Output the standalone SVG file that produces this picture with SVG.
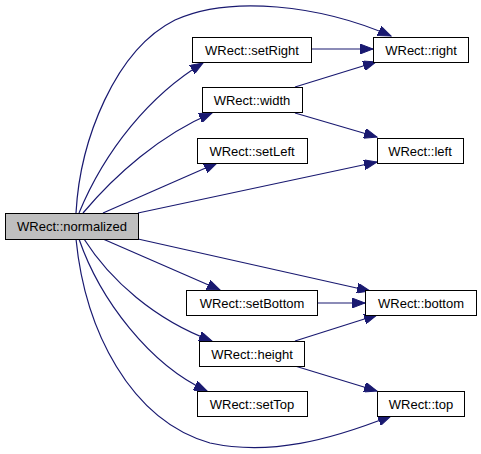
<svg xmlns="http://www.w3.org/2000/svg" width="481" height="454" viewBox="0 0 481 454">
<style>
.n rect{fill:#ffffff;stroke:#000000;stroke-width:1}
.n.root rect{fill:#bfbfbf}
.n text{font-family:"Liberation Sans",Arial,sans-serif;font-size:13px;fill:#000000;text-anchor:middle}
.e path{fill:none;stroke:#191970;stroke-width:1.2;marker-end:url(#ah)}
</style>
<defs>
<marker id="ah" markerUnits="userSpaceOnUse" markerWidth="14" markerHeight="10" refX="13" refY="5" orient="auto">
<path d="M0,0 L13,5 L0,10 z" fill="#191970" stroke="#191970" stroke-width="1"/>
</marker>
</defs>
<rect width="481" height="454" fill="#ffffff"/>
<g id="edges" class="e">
<path d="M76,213 C80,140 115,50 175,20 C230,-5 320,5 391,36"/>
<path d="M79,213 C105,150 150,95 203,63"/>
<path d="M83,213 C115,175 160,135 212,113"/>
<path d="M103,213 L217,163"/>
<path d="M138,213 L377,162"/>
<path d="M138,239 L370,291"/>
<path d="M103,239 L220,290"/>
<path d="M84,239 C110,280 155,320 212,341"/>
<path d="M79,239 C100,300 150,365 207,391"/>
<path d="M76,239 C85,330 130,420 210,443 C270,456 330,440 391,416"/>
<path d="M311,49 L373,49"/>
<path d="M295,87 L376,62"/>
<path d="M295,113 L377,137"/>
<path d="M317,303 L365,303"/>
<path d="M295,341 L377,315"/>
<path d="M295,366 L377,391"/>
</g>
<g id="normalized" class="n root"><rect x="5.5" y="213.5" width="133" height="26"/><text x="72" y="231">WRect::normalized</text></g>
<g id="setRight" class="n"><rect x="192.5" y="37.5" width="119" height="25"/><text x="252" y="54.5">WRect::setRight</text></g>
<g id="right" class="n"><rect x="373.5" y="37.5" width="95" height="25"/><text x="421" y="54.5">WRect::right</text></g>
<g id="width" class="n"><rect x="202.5" y="87.5" width="100" height="25"/><text x="252" y="104.5">WRect::width</text></g>
<g id="setLeft" class="n"><rect x="197.5" y="138.5" width="110" height="25"/><text x="252" y="155.5">WRect::setLeft</text></g>
<g id="left" class="n"><rect x="377.5" y="138.5" width="86" height="25"/><text x="420" y="155.5">WRect::left</text></g>
<g id="setBottom" class="n"><rect x="186.5" y="290.5" width="131" height="25"/><text x="252" y="307.5">WRect::setBottom</text></g>
<g id="bottom" class="n"><rect x="365.5" y="290.5" width="111" height="25"/><text x="421" y="307.5">WRect::bottom</text></g>
<g id="height" class="n"><rect x="199.5" y="341.5" width="105" height="25"/><text x="252" y="358.5">WRect::height</text></g>
<g id="setTop" class="n"><rect x="197.5" y="391.5" width="110" height="25"/><text x="252" y="408.5">WRect::setTop</text></g>
<g id="top" class="n"><rect x="377.5" y="391.5" width="87" height="25"/><text x="421" y="408.5">WRect::top</text></g>
</svg>
